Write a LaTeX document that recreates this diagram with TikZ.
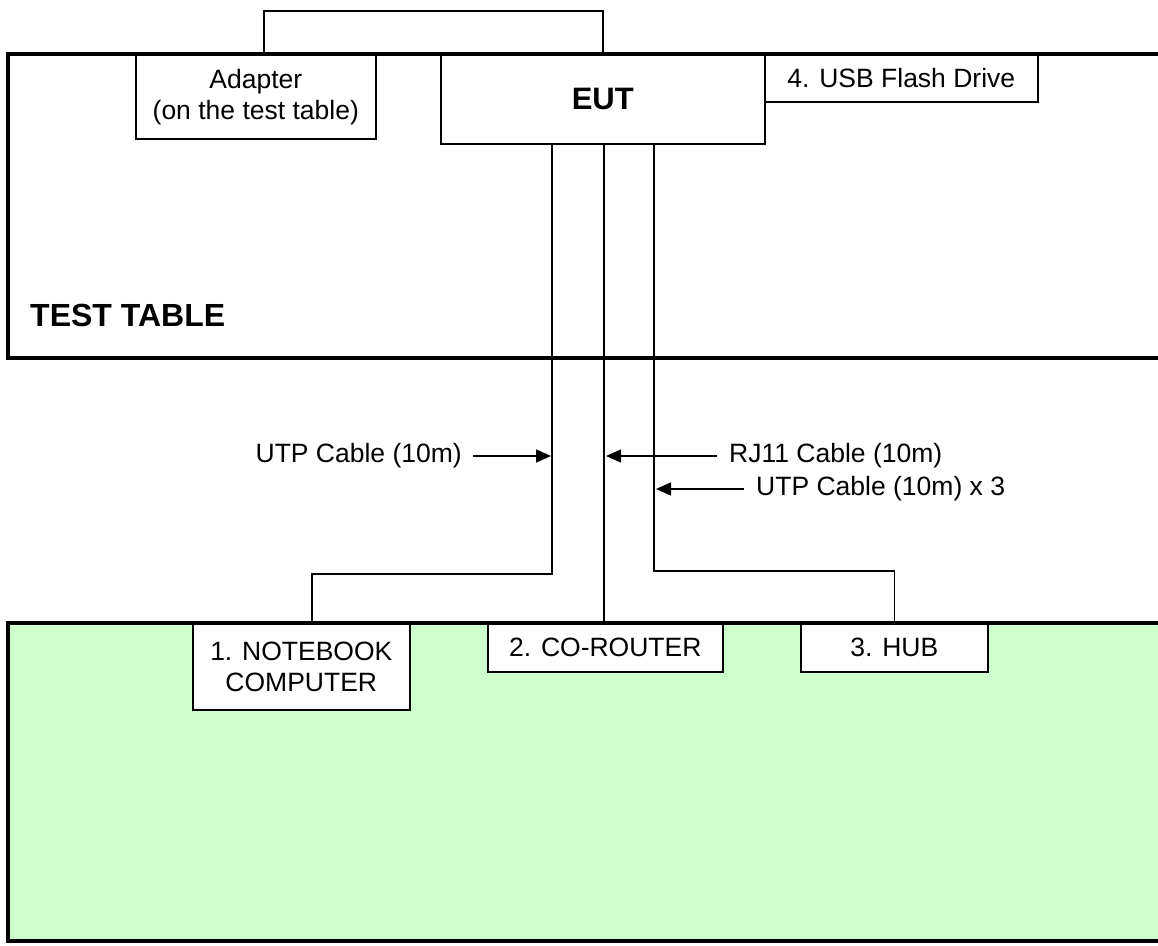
\documentclass[tikz,border=0pt]{standalone}
\usepackage{fontspec}
\setmainfont{Liberation Sans}
\usetikzlibrary{arrows.meta}
\definecolor{tablegreen}{HTML}{CCFFCC}
\begin{document}
\begin{tikzpicture}[x=1pt,y=-1pt,
  box/.style={draw, fill=white, line width=1.6pt, inner sep=0pt, align=center,
    font=\fontsize{26.5}{31}\selectfont, anchor=north west},
  lbl/.style={inner sep=0pt, font=\fontsize{26.5}{31}\selectfont},
  cable/.style={line width=1.6pt},
  arr/.style={line width=1.6pt, -{Triangle[length=15pt,width=13pt]}},
  border/.style={line width=3.2pt}]
\useasboundingbox (0,0) rectangle (1158,945);
\clip (0,0) rectangle (1158,945);
% green floor area
\fill[tablegreen] (8,623) rectangle (1175,941);
% boxes
\node[box, minimum width=240pt, minimum height=84pt] (adapter) at (135,54) {Adapter\\(on the test table)};
\node[box, minimum width=324pt, minimum height=89pt, font=\fontsize{31}{35}\selectfont\bfseries] (eut) at (440,54) {\raisebox{-2.5pt}{EUT}};
\node[box, minimum width=273pt, minimum height=47pt] (usb) at (764,54) {4. USB Flash Drive};
\node[box, minimum width=217pt, minimum height=86pt] (notebook) at (192,623) {1. NOTEBOOK\\COMPUTER};
\node[box, minimum width=235pt, minimum height=48pt] (corouter) at (487,623) {2. CO-ROUTER};
\node[box, minimum width=187pt, minimum height=48pt] (hub) at (800,623) {3. HUB};
\node[inner sep=0pt, anchor=west, font=\fontsize{32}{36}\selectfont\bfseries] (tt) at (30,315) {TEST TABLE};
% adapter to EUT
\coordinate (wtop) at (264,11);
\draw[cable] (adapter.north -| wtop) -- (wtop) -| (eut.north);
% cables
\coordinate (k1) at (552,574);
\coordinate (k1b) at (312,574);
\coordinate (c2x) at (604,0);
\coordinate (k3) at (654,571);
\draw[cable] (eut.south -| k1) -- (k1) -- (k1b) -- (notebook.north -| k1b);
\draw[cable] (eut.south -| c2x) -- (corouter.north -| c2x);
\draw[cable] (eut.south -| k3) -- (k3) -| (hub.north);
% labels and arrows
\node[lbl, anchor=east] (l1) at (462,456) {UTP Cable (10m)};
\node[lbl, anchor=west] (l2) at (729,456) {RJ11 Cable (10m)};
\node[lbl, anchor=west] (l3) at (756,489) {UTP Cable (10m) x 3};
\coordinate (t1) at (551,456);
\coordinate (t2) at (606,456);
\coordinate (t3) at (656,489);
\draw[arr] ([xshift=11pt]l1.east) -- (t1);
\draw[arr] ([xshift=-12pt]l2.west) -- (t2);
\draw[arr] ([xshift=-12pt]l3.west) -- (t3);
% borders
\draw[border] (1175,54) -- (8,54) -- (8,358) -- (1175,358);
\draw[border] (1175,623) -- (8,623) -- (8,941) -- (1175,941);
\end{tikzpicture}
\end{document}
